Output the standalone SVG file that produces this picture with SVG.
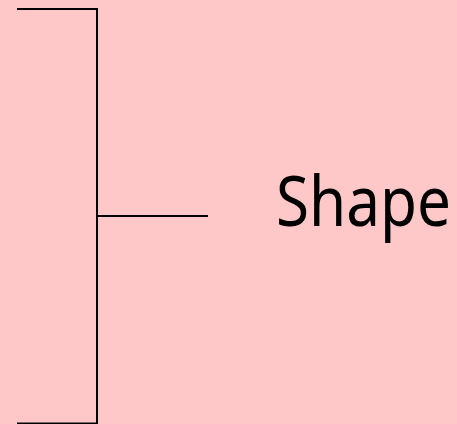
<svg xmlns="http://www.w3.org/2000/svg" width="457" height="424" viewBox="0 0 457 424">
<style>
.ln{stroke:#000;stroke-width:2;fill:none}
.lbl{font-family:"Noto Sans","Open Sans",sans-serif;font-size:70px;fill:#000}
</style>
<rect width="457" height="424" fill="#ffc8c8"/>
<g id="connectors">
<path class="ln" d="M17,9 H97 V424"/>
<path class="ln" d="M97,216 H208"/>
<path class="ln" d="M17,423.5 H97"/>
</g>
<g id="node-shape">
<text class="lbl" x="276" y="226" textLength="175" lengthAdjust="spacingAndGlyphs">Shape</text>
</g>
</svg>
